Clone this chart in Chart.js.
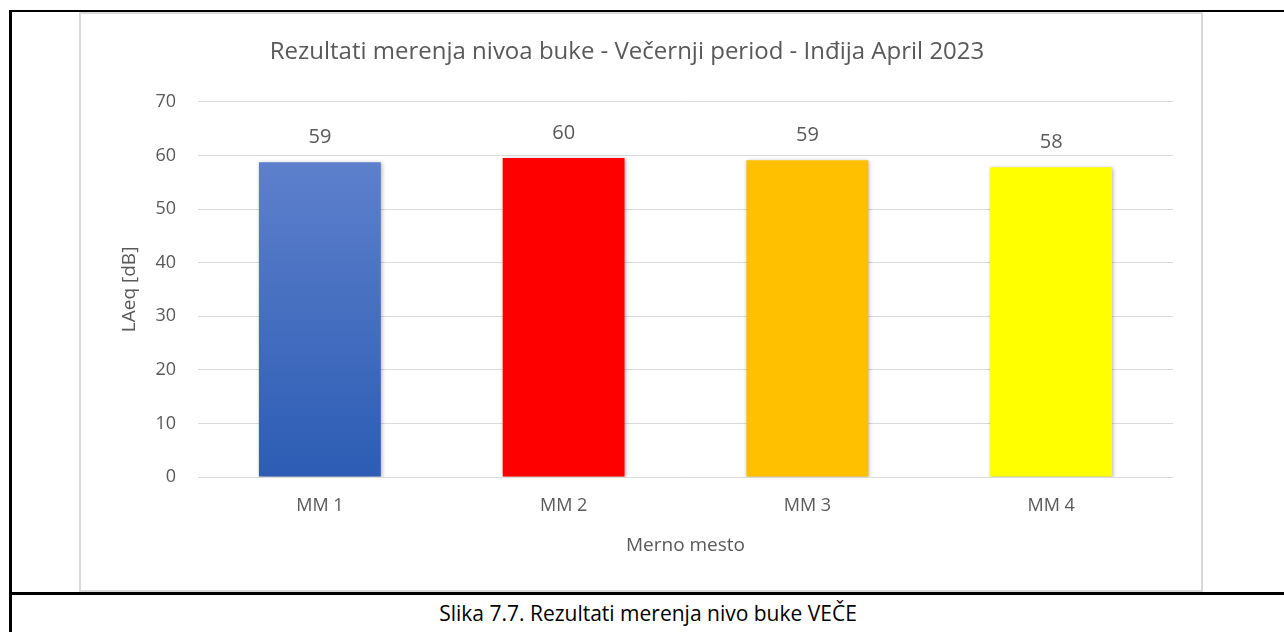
<!DOCTYPE html>
<html>
<head>
<meta charset="utf-8">
<script src="https://cdn.jsdelivr.net/npm/chart.js@4.4.1/dist/chart.umd.min.js"></script>
<style>
    body { margin: 0; background: #fff; width: 1284px; height: 632px; overflow: hidden; position: relative; }
    .line { position: absolute; background: #000; }
    #chartBox {
        position: absolute; left: 79px; top: 12px; width: 1124px; height: 580px;
        box-sizing: border-box; border: 2px solid #d9d9d9; background: #fff;
    }
    #chartBox canvas { display: block; }
    #caption {
        position: absolute; left: 12px; right: 0; top: 596px; height: 36px;
        text-align: center; font-family: "Open Sans", sans-serif; font-size: 21px;
        line-height: 34px; color: #000;
    }
</style>
</head>
<body>
<div class="line" style="left:10px; top:10px; width:1274px; height:2px;"></div>
<div class="line" style="left:9px; top:10px; width:3px; height:622px;"></div>
<div class="line" style="left:10px; top:592px; width:1274px; height:3px;"></div>
<div id="chartBox"><canvas id="bukaChart" width="1120" height="576"></canvas></div>
<div id="caption">Slika 7.7. Rezultati merenja nivo buke VEČE</div>

<script>
// Merna mesta i izmereni nivoi (LAeq, dB) - večernji period
const mernaMesta = ['MM 1', 'MM 2', 'MM 3', 'MM 4'];
const nivoBuke = [58.7, 59.5, 59.1, 57.8];
const bojeStubova = ['gradient', '#ff0000', '#ffc000', '#ffff00'];
const yTicks = [0, 10, 20, 30, 40, 50, 60, 70];

const sivaTekst = '#595959';
const font = 'Open Sans';

// Plavi stub ima gradijent odozgo nadole
function bojaStuba(context) {
    const i = context.dataIndex;
    if (bojeStubova[i] !== 'gradient') return bojeStubova[i];
    const chart = context.chart;
    const y = chart.scales.y;
    if (!y || !chart.chartArea) return '#4a72c4';
    const g = chart.ctx.createLinearGradient(0, y.getPixelForValue(nivoBuke[i]), 0, y.getPixelForValue(0));
    g.addColorStop(0, '#5d80cc');
    g.addColorStop(1, '#2c5cb4');
    return g;
}

// Senka ispod stubova i vrednosti iznad njih
const senkaIVrednosti = {
    id: 'senkaIVrednosti',
    beforeDatasetsDraw(chart) {
        const ctx = chart.ctx;
        ctx.save();
        ctx.shadowColor = 'rgba(0, 0, 0, 0.3)';
        ctx.shadowBlur = 4;
        ctx.shadowOffsetX = 1;
        ctx.shadowOffsetY = 1;
    },
    afterDatasetsDraw(chart) {
        const ctx = chart.ctx;
        ctx.restore();
        ctx.save();
        ctx.fillStyle = sivaTekst;
        ctx.font = '20px "' + font + '"';
        ctx.textAlign = 'center';
        ctx.textBaseline = 'middle';
        const meta = chart.getDatasetMeta(0);
        meta.data.forEach((bar, i) => {
            ctx.fillText(Math.round(nivoBuke[i]), bar.x, bar.y - 25);
        });
        ctx.restore();
    }
};

const ctx = document.getElementById('bukaChart').getContext('2d');
const bukaChart = new Chart(ctx, {
    type: 'bar',
    data: {
        labels: mernaMesta,
        datasets: [{
            label: 'LAeq [dB]',
            data: nivoBuke,
            backgroundColor: bojaStuba,
            borderWidth: 0,
            barPercentage: 1,
            categoryPercentage: 0.5
        }]
    },
    options: {
        responsive: false,
        animation: false,
        layout: { padding: { top: 0, right: 28, bottom: 0, left: 0 } },
        plugins: {
            legend: { display: false },
            tooltip: { enabled: false },
            title: {
                display: true,
                text: 'Rezultati merenja nivoa buke - Večernji period - Inđija April 2023',
                color: sivaTekst,
                font: { family: font, size: 24, weight: 'normal' },
                padding: { top: 24, bottom: 35 }
            }
        },
        scales: {
            x: {
                grid: { display: false, drawTicks: false },
                border: { display: false },
                ticks: {
                    color: sivaTekst,
                    font: { family: font, size: 18 },
                    padding: 18
                },
                title: {
                    display: true,
                    text: 'Merno mesto',
                    color: sivaTekst,
                    font: { family: font, size: 19 },
                    padding: { top: 0, bottom: 33 }
                },
                afterFit(scale) { scale.height = 113; }
            },
            y: {
                min: 0,
                max: 70,
                afterBuildTicks(scale) { scale.ticks = yTicks.map(v => ({ value: v })); },
                grid: { color: '#d9d9d9', lineWidth: 1, drawTicks: false },
                border: { display: false },
                ticks: {
                    color: sivaTekst,
                    font: { family: font, size: 18 },
                    padding: 22
                },
                title: {
                    display: true,
                    text: 'LAeq [dB]',
                    color: sivaTekst,
                    font: { family: font, size: 19 },
                    padding: { top: 37, bottom: 0 }
                },
                afterFit(scale) { scale.width = 117; }
            }
        }
    },
    plugins: [senkaIVrednosti]
});
</script>
</body>
</html>
